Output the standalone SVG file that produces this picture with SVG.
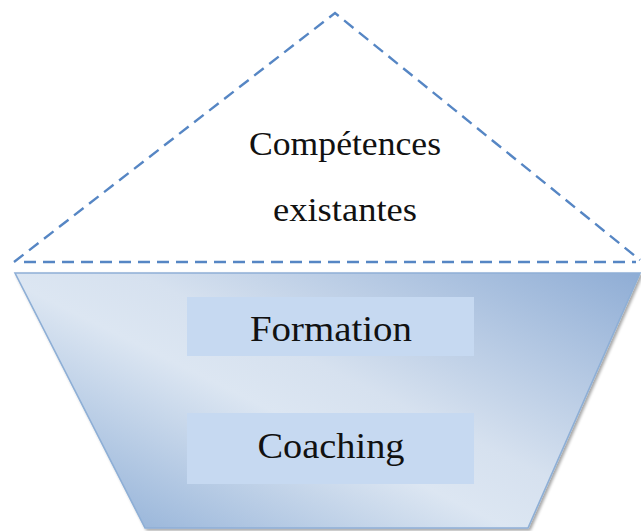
<svg xmlns="http://www.w3.org/2000/svg" width="641" height="531" viewBox="0 0 641 531">
  <defs>
    <!-- light band runs from the top-left corner to the bottom-right corner -->
    <linearGradient id="funnelFill" gradientUnits="userSpaceOnUse" x1="196" y1="553" x2="395" y2="152">
      <stop offset="0" stop-color="#9cb8db"/>
      <stop offset="0.36" stop-color="#dce6f2"/>
      <stop offset="0.5" stop-color="#d6e1ef"/>
      <stop offset="1" stop-color="#8fadd5"/>
    </linearGradient>
    <filter id="shade" x="-5%" y="-5%" width="115%" height="115%">
      <feGaussianBlur in="SourceAlpha" stdDeviation="1.5"/>
      <feOffset dx="2" dy="2"/>
      <feComponentTransfer><feFuncA type="linear" slope="0.35"/></feComponentTransfer>
      <feMerge><feMergeNode/><feMergeNode in="SourceGraphic"/></feMerge>
    </filter>
  </defs>
  <style>
    .dash { fill: none; stroke: #5686c4; stroke-width: 2.4; stroke-dasharray: 12 7; }
    .box { fill: #c6d9f1; }
    .label { font-family: "Liberation Serif", "DejaVu Serif", serif; fill: #111; text-anchor: middle; }
  </style>

  <!-- dashed triangle above the water line -->
  <g id="top">
    <path class="dash" d="M14,262 L335,13 L640,260"/>
    <text class="label" x="345" y="155" font-size="33" textLength="192" lengthAdjust="spacingAndGlyphs">Compétences</text>
    <text class="label" x="345" y="221" font-size="33" textLength="144" lengthAdjust="spacingAndGlyphs">existantes</text>
  </g>

  <g id="connectors">
    <line class="dash" x1="24" y1="262" x2="636" y2="262"/>
  </g>

  <!-- funnel body -->
  <g id="funnel">
    <path d="M15,273 L640,273 L528,528 L145,528 Z" fill="url(#funnelFill)" stroke="#8eafd6" stroke-width="1.6" filter="url(#shade)"/>
  </g>

  <g id="formation">
    <rect class="box" x="187" y="297" width="287" height="59"/>
    <text class="label" x="331" y="341" font-size="35" textLength="162" lengthAdjust="spacingAndGlyphs">Formation</text>
  </g>

  <g id="coaching">
    <rect class="box" x="187" y="413" width="287" height="71"/>
    <text class="label" x="331" y="458" font-size="35" textLength="147" lengthAdjust="spacingAndGlyphs">Coaching</text>
  </g>
</svg>
